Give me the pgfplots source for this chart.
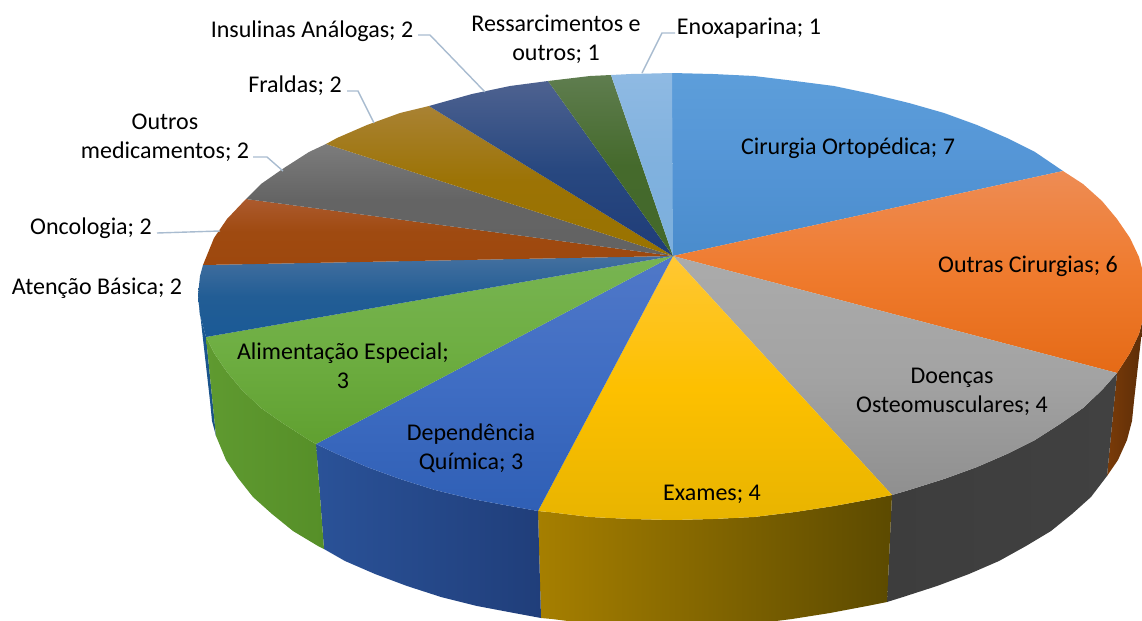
\documentclass[border=0pt]{standalone}
\usepackage{pgfplots}
\pgfplotsset{compat=1.18}
\usepackage{fontspec}
\setmainfont{Carlito}
\definecolor{lead}{HTML}{A9BCD0}
\pgfplotsset{
  slice/.style n args={3}{/utils/exec={\definecolor{cA}{HTML}{#1}\definecolor{cB}{HTML}{#2}\definecolor{cC}{HTML}{#3}},draw=none,top color=cA,bottom color=cC,middle color=cB},
  wall/.style n args={2}{/utils/exec={\definecolor{cA}{HTML}{#1}\definecolor{cB}{HTML}{#2}},draw=none,left color=cA,right color=cB},
  leader/.style={lead,line width=0.7pt,no markers}
}
\begin{document}
\begin{tikzpicture}
\useasboundingbox (0,0) rectangle (571pt,310.5pt);
\begin{axis}[
  at={(0,0)},anchor=south west,
  scale only axis,width=571pt,height=310.5pt,
  xmin=0,xmax=1142,ymin=0,ymax=621,y dir=reverse,
  hide axis,clip=true,
  nodes={font=\fontsize{12}{14.5}\selectfont,align=center,text=black,inner sep=0pt}
]
% --- side walls ---
% Atencao Basica wall
\addplot[wall={1B5A96}{1A4F84}] coordinates {(198,295)(200,315)(206,337)(216,436)(212,421)(210,401)} --cycle;
% Outras Cirurgias wall
\addplot[wall={7A3B08}{5A2C08}] coordinates {(1146,295)(1144,315)(1139,334)(1130,353)(1117,373)(1107,476)(1118,460)(1127,440)(1132,421)(1134,401)} --cycle;
% Doencas wall
\addplot[wall={3D3D3D}{414141}] coordinates {(1117,373)(1102,390)(1083,408)(1060,424)(1035,440)(1007,454)(977,467)(944,479)(909,490)(892,495)(887,602)(903,597)(937,586)(969,574)(999,561)(1026,546)(1051,531)(1072,514)(1091,497)(1107,476)} --cycle;
% Exames wall
\addplot[wall={A67F00}{5C4A00}] coordinates {(892,495)(872,499)(834,506)(795,512)(754,517)(713,519)(672,520)(631,519)(590,517)(549,512)(538,511)(541,618)(552,619)(592,624)(632,626)(672,627)(712,626)(752,624)(792,619)(830,613)(867,606)(887,602)} --cycle;
% Dependencia wall
\addplot[wall={2A5298}{203E7A}] coordinates {(538,511)(510,506)(472,499)(435,490)(400,479)(367,467)(337,454)(316,444)(324,549)(345,561)(375,574)(407,586)(441,597)(477,606)(514,613)(541,618)} --cycle;
% Alimentacao wall
\addplot[wall={5F9A30}{568F28}] coordinates {(316,444)(309,440)(284,424)(261,408)(242,390)(227,372)(214,353)(206,337)(216,436)(226,460)(238,478)(253,497)(272,514)(293,531)(318,546)(324,549)} --cycle;
% --- top faces ---
% Cirurgia Ortopedica
\addplot[slice={5D9EDA}{5495D6}{4A8CCC}] coordinates {(673,256)(672,73)(713,74)(754,76)(795,81)(834,86)(872,94)(909,103)(944,113)(977,125)(1007,138)(1035,152)(1063,171)} --cycle;
% Outras Cirurgias
\addplot[slice={EE8C54}{EF7B2E}{E56A16}] coordinates {(673,256)(1063,171)(1083,184)(1102,201)(1117,219)(1130,238)(1139,257)(1144,276)(1146,295)(1144,315)(1139,334)(1130,353)(1117,373)} --cycle;
% Doencas Osteomusculares
\addplot[slice={ABABAB}{A3A3A3}{8F8F8F}] coordinates {(673,256)(1117,373)(1102,390)(1083,408)(1060,424)(1035,440)(1007,454)(977,467)(944,479)(909,490)(892,495)} --cycle;
% Exames
\addplot[slice={FFC733}{FDC000}{E8B400}] coordinates {(673,256)(892,495)(872,499)(834,506)(795,512)(754,517)(713,519)(672,520)(631,519)(590,517)(549,512)(538,511)} --cycle;
% Dependencia Quimica
\addplot[slice={5078C8}{3F6DC3}{2F5FB5}] coordinates {(673,256)(538,511)(510,506)(472,499)(435,490)(400,479)(367,467)(337,454)(316,444)} --cycle;
% Alimentacao Especial
\addplot[slice={78B452}{6EAE42}{60A030}] coordinates {(673,256)(316,444)(309,440)(284,424)(261,408)(242,390)(227,372)(214,353)(206,337)} --cycle;
% Atencao Basica
\addplot[slice={44709F}{225D95}{1A5A96}] coordinates {(673,256)(206,337)(200,315)(198,295)(200,276)(203,265)} --cycle;
% Oncologia
\addplot[slice={AC5A2E}{9F4A10}{9E480E}] coordinates {(673,256)(203,265)(214,238)(227,219)(246,199)} --cycle;
% Outros medicamentos
\addplot[slice={7C7C7C}{646464}{636363}] coordinates {(673,256)(246,199)(261,184)(284,168)(309,152)(326,144)} --cycle;
% Fraldas
\addplot[slice={A98233}{9C7305}{997300}] coordinates {(673,256)(326,144)(337,138)(367,125)(400,113)(429,106)} --cycle;
% Insulinas Analogas
\addplot[slice={4E6290}{284880}{1F3C78}] coordinates {(673,256)(429,106)(472,94)(510,86)(548,81)} --cycle;
% Ressarcimentos
\addplot[slice={5F7D4F}{456A2C}{43682B}] coordinates {(673,256)(548,81)(590,76)(611,75)} --cycle;
% Enoxaparina
\addplot[slice={8FBAE3}{80B1DE}{7CAFDD}] coordinates {(673,256)(611,75)(631,74)(672,73)} --cycle;
% --- leader lines ---
\addplot[leader] coordinates {(418,35)(430,35)(485,92)};
\addplot[leader] coordinates {(347,91)(358,91)(374,123)};
\addplot[leader] coordinates {(253,157)(267,157)(283,171)};
\addplot[leader] coordinates {(157,233)(220,231)};
\addplot[leader] coordinates {(675,33)(662,33)(642,73)};
% --- labels ---
\node at (axis cs:848,148) {Cirurgia Ortopédica; 7};
\node at (axis cs:1028,266) {Outras Cirurgias; 6};
\node at (axis cs:952,392) {Doenças\\Osteomusculares; 4};
\node at (axis cs:712,494) {Exames; 4};
\node at (axis cs:471,448) {Dependência\\Química; 3};
\node at (axis cs:343,366) {Alimentação Especial;\\3};
\node at (axis cs:97,288) {Atenção Básica; 2};
\node at (axis cs:91,228) {Oncologia; 2};
\node at (axis cs:165,138) {Outros\\medicamentos; 2};
\node at (axis cs:295,86) {Fraldas; 2};
\node at (axis cs:312,31) {Insulinas Análogas; 2};
\node at (axis cs:556,39) {Ressarcimentos e\\outros; 1};
\node at (axis cs:749,28) {Enoxaparina; 1};
\end{axis}
\end{tikzpicture}
\end{document}
